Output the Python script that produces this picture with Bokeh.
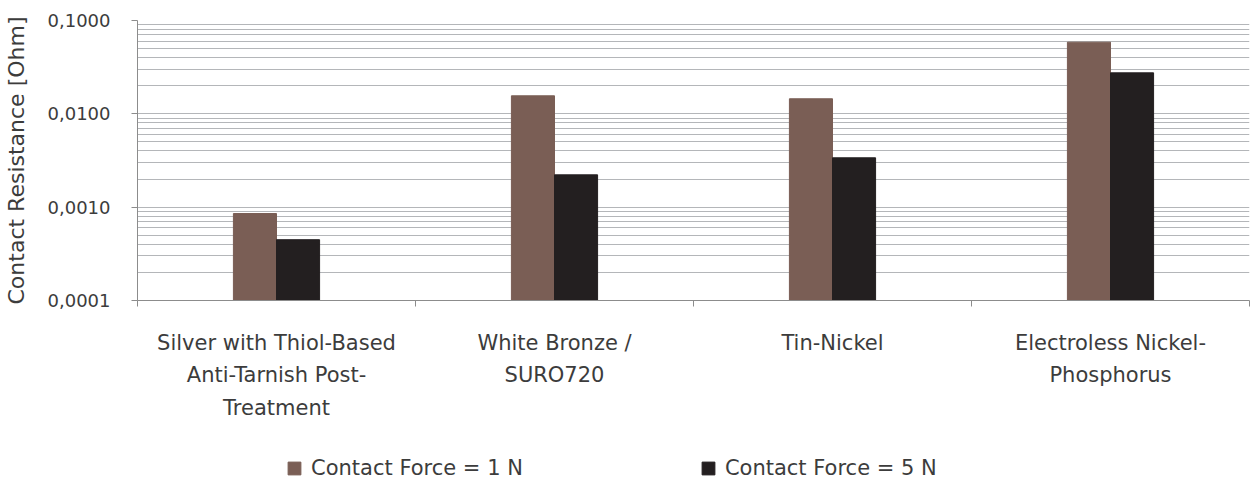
from bokeh.plotting import figure
from bokeh.layouts import column
from bokeh.models import (ColumnDataSource, FixedTicker, Legend, LegendItem, LinearAxis)
from bokeh.embed import file_html
from bokeh.resources import INLINE

# ---- data ----
categories = [
    "Silver with Thiol-Based\nAnti-Tarnish Post-\nTreatment",
    "White Bronze /\nSURO720",
    "Tin-Nickel",
    "Electroless Nickel-\nPhosphorus",
]
force_1n = [0.000855, 0.0156, 0.0145, 0.0586]
force_5n = [0.000448, 0.00222, 0.00338, 0.0275]
series_names = ["Contact Force = 1 N", "Contact Force = 5 N"]
y_ticks = [0.0001, 0.001, 0.01, 0.1]
y_tick_labels = ["0,0001", "0,0010", "0,0100", "0,1000"]

FONT = "DejaVu Sans"
TXT = "#3c3c3c"
C1 = "#7a5e55"
C2 = "#231f20"
GRID = "#b4b6b9"
AX = "#8c8c8c"

n = len(categories)
centers = [i + 0.5 for i in range(n)]
bw = 0.155

p = figure(width=1250, height=440, output_backend="svg", toolbar_location=None,
           y_axis_type="log", x_range=(0, n), y_range=(y_ticks[0], y_ticks[-1]),
           min_border_left=137, min_border_right=1, min_border_top=20,
           min_border_bottom=140)
p.outline_line_color = None
p.background_fill_color = "white"
p.border_fill_color = "white"

src = ColumnDataSource(dict(
    x1=[c - bw / 2 for c in centers], x2=[c + bw / 2 for c in centers],
    f1=force_1n, f5=force_5n))
r1 = p.vbar(x="x1", top="f1", bottom=y_ticks[0], width=bw, source=src,
            fill_color=C1, line_color=C1)
r2 = p.vbar(x="x2", top="f5", bottom=y_ticks[0], width=bw, source=src,
            fill_color=C2, line_color=C2)

# y axis
minor = []
for d in y_ticks[:-1]:
    minor += [d * k for k in range(2, 10)]
p.yaxis.ticker = FixedTicker(ticks=y_ticks, minor_ticks=minor)
p.yaxis.major_label_overrides = {t: l for t, l in zip(y_ticks, y_tick_labels)}
p.yaxis.axis_label = "Contact Resistance [Ohm]"
p.yaxis.axis_label_text_font = FONT
p.yaxis.axis_label_text_font_style = "normal"
p.yaxis.axis_label_text_font_size = "22px"
p.yaxis.axis_label_text_color = TXT
p.yaxis.axis_label_standoff = 16
p.yaxis.major_label_text_font = FONT
p.yaxis.major_label_text_font_size = "18px"
p.yaxis.major_label_text_color = TXT
p.yaxis.major_label_standoff = 21
p.yaxis.axis_line_color = AX
p.yaxis.major_tick_line_color = AX
p.yaxis.major_tick_out = 6
p.yaxis.major_tick_in = 0
p.yaxis.minor_tick_line_color = None

# x axis: boundary ticks only
p.xaxis.ticker = FixedTicker(ticks=list(range(n + 1)))
p.xaxis.major_label_overrides = {i: "" for i in range(n + 1)}
p.xaxis.major_label_text_font_size = "0px"
p.xaxis.major_label_standoff = 0
p.xaxis.axis_line_color = AX
p.xaxis.major_tick_line_color = AX
p.xaxis.major_tick_out = 6
p.xaxis.major_tick_in = 0
p.xaxis.minor_tick_line_color = None

# category label axis
cat_axis = LinearAxis(ticker=FixedTicker(ticks=centers),
                      major_label_overrides={c: t for c, t in zip(centers, categories)},
                      axis_line_color=None, major_tick_line_color=None,
                      minor_tick_line_color=None,
                      major_label_text_font=FONT, major_label_text_font_size="21px",
                      major_label_text_color=TXT, major_label_text_line_height=1.37,
                      major_label_standoff=18)
p.add_layout(cat_axis, "below")

# grids
p.xgrid.grid_line_color = None
p.ygrid.grid_line_color = GRID
p.ygrid.minor_grid_line_color = GRID

# legend strip (same data source; the bars themselves fall outside this strip's range)
lg = figure(width=1250, height=42, output_backend="svg", toolbar_location=None,
            x_axis_location=None, y_axis_location=None, min_border=0,
            x_range=(0, n), y_range=(1, 2))
lg.outline_line_color = None
lg.grid.grid_line_color = None
lr1 = lg.vbar(x="x1", top="f1", bottom=y_ticks[0], width=bw, source=src,
              fill_color=C1, line_color=C1)
lr2 = lg.vbar(x="x2", top="f5", bottom=y_ticks[0], width=bw, source=src,
              fill_color=C2, line_color=C2)
legend = Legend(items=[LegendItem(label=series_names[0], renderers=[lr1]),
                       LegendItem(label=series_names[1], renderers=[lr2])],
                orientation="horizontal", location=(149, 2),
                label_text_font=FONT, label_text_font_size="21px",
                label_text_color=TXT, glyph_width=16, glyph_height=16,
                label_standoff=9, spacing=177, padding=0, margin=0,
                border_line_color=None, background_fill_alpha=0)
lg.add_layout(legend, "center")

layout = column(p, lg, spacing=0)
open("out.html", "w").write(file_html(layout, INLINE))
